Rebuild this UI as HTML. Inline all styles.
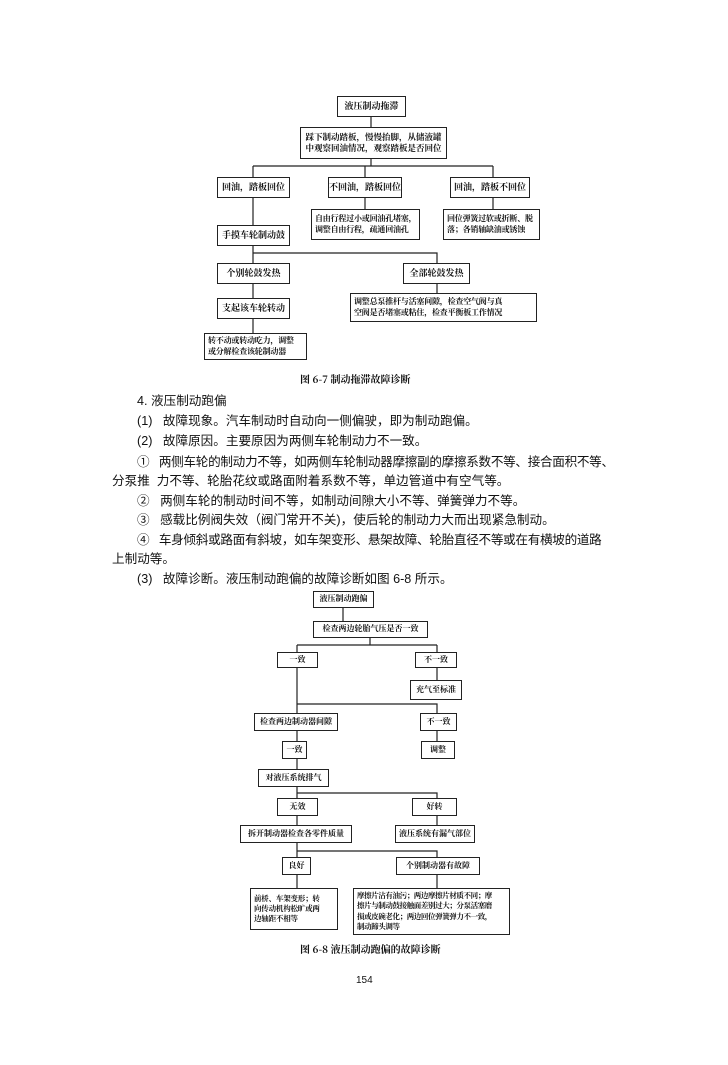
<!DOCTYPE html>
<html><head><meta charset="utf-8"><style>
html,body{margin:0;padding:0;background:#fff;}
#p{position:relative;width:728px;height:1065px;overflow:hidden;font-family:"Liberation Sans","Noto Sans CJK SC",sans-serif;color:#111;}
.b{position:absolute;border:1.5px solid #222;box-sizing:border-box;display:flex;align-items:center;justify-content:center;text-align:center;font-size:9px;font-weight:bold;line-height:1.35;background:#fff;font-family:"Noto Serif CJK SC","Noto Sans CJK SC",serif;white-space:nowrap;overflow:hidden;}
.l{text-align:left;padding:0 3px;justify-content:flex-start;font-size:8px;letter-spacing:-0.2px;}
.t{position:absolute;font-size:12.6px;white-space:nowrap;font-family:"Liberation Sans","Noto Sans CJK SC",sans-serif;}
.c{position:absolute;font-size:10px;font-weight:bold;white-space:nowrap;font-family:"Noto Serif CJK SC","Noto Sans CJK SC",serif;}
svg{position:absolute;left:0;top:0;}
</style></head><body><div id="p">
<svg width="728" height="1065" stroke="#222" stroke-width="1.2" fill="none">
<path d="M371 117V127 M371 159V166 M253 166H493 M253 166V177 M365 166V177 M493 166V177 M365 198V209 M493 198V209 M253 198V225 M253 246V263 M253 253H437V263 M253 284V298 M437 284V293 M253 319V333"/>
<path d="M343 608V621 M370 638V645 M297 645H437 M297 645V652 M437 645V652 M437 668V680 M297 668V713 M297 704H437V713 M437 731V741 M297 731V741 M297 759V769 M297 787V798 M297 793H437V798 M297 816V825 M437 816V825 M297 843V857 M297 851H437V857 M297 875V888 M437 875V888"/>
</svg>
<div class="b" style="left:337px;top:96px;width:69px;height:21px">液压制动拖滞</div>
<div class="b" style="left:300px;top:127px;width:147px;height:32px;font-size:8.5px">踩下制动踏板，慢慢抬脚，从储液罐<br>中观察回油情况，观察踏板是否回位</div>
<div class="b" style="left:217px;top:177px;width:73px;height:21px">回油，踏板回位</div>
<div class="b" style="left:328px;top:177px;width:74px;height:21px">不回油，踏板回位</div>
<div class="b" style="left:450px;top:177px;width:80px;height:21px">回油，踏板不回位</div>
<div class="b l" style="left:311px;top:209px;width:109px;height:31px">自由行程过小或回油孔堵塞，<br>调整自由行程，疏通回油孔</div>
<div class="b l" style="left:443px;top:209px;width:97px;height:31px">回位弹簧过软或折断、脱<br>落；各销轴缺油或锈蚀</div>
<div class="b" style="left:217px;top:225px;width:73px;height:21px">手摸车轮制动鼓</div>
<div class="b" style="left:217px;top:263px;width:73px;height:21px">个别轮鼓发热</div>
<div class="b" style="left:403px;top:263px;width:67px;height:21px">全部轮鼓发热</div>
<div class="b" style="left:217px;top:298px;width:73px;height:21px">支起该车轮转动</div>
<div class="b l" style="left:350px;top:293px;width:187px;height:29px">调整总泵推杆与活塞间隙，检查空气阀与真<br>空阀是否堵塞或粘住，检查平衡板工作情况</div>
<div class="b l" style="left:204px;top:333px;width:103px;height:27px">转不动或转动吃力，调整<br>或分解检查该轮制动器</div>
<div class="c" style="left:300px;top:371px">图 6-7 制动拖滞故障诊断</div>

<div class="t" style="left:137px;top:390px">4. 液压制动跑偏</div>
<div class="t" style="left:137px;top:410px">(1)&nbsp;&nbsp; 故障现象。汽车制动时自动向一侧偏驶，即为制动跑偏。</div>
<div class="t" style="left:137px;top:430px">(2)&nbsp;&nbsp; 故障原因。主要原因为两侧车轮制动力不一致。</div>
<div class="t" style="left:137px;top:451px;letter-spacing:-0.3px">①&nbsp;&nbsp; 两侧车轮的制动力不等，如两侧车轮制动器摩擦副的摩擦系数不等、接合面积不等、</div>
<div class="t" style="left:112px;top:470px">分泵推&nbsp; 力不等、轮胎花纹或路面附着系数不等，单边管道中有空气等。</div>
<div class="t" style="left:137px;top:490px">②&nbsp;&nbsp; 两侧车轮的制动时间不等，如制动间隙大小不等、弹簧弹力不等。</div>
<div class="t" style="left:137px;top:509px">③&nbsp;&nbsp; 感载比例阀失效（阀门常开不关)，使后轮的制动力大而出现紧急制动。</div>
<div class="t" style="left:137px;top:529px;letter-spacing:-0.3px">④&nbsp;&nbsp; 车身倾斜或路面有斜坡，如车架变形、悬架故障、轮胎直径不等或在有横坡的道路</div>
<div class="t" style="left:112px;top:548px">上制动等。</div>
<div class="t" style="left:137px;top:568px">(3)&nbsp;&nbsp; 故障诊断。液压制动跑偏的故障诊断如图 6-8 所示。</div>

<div class="b" style="left:313px;top:591px;width:61px;height:17px;font-size:8px">液压制动跑偏</div>
<div class="b" style="left:313px;top:621px;width:115px;height:17px;font-size:8px">检查两边轮胎气压是否一致</div>
<div class="b" style="left:277px;top:652px;width:41px;height:16px;font-size:8px">一致</div>
<div class="b" style="left:415px;top:652px;width:42px;height:16px;font-size:8px">不一致</div>
<div class="b" style="left:410px;top:680px;width:52px;height:20px;font-size:8px">充气至标准</div>
<div class="b" style="left:254px;top:713px;width:84px;height:18px;font-size:8px">检查两边制动器间隙</div>
<div class="b" style="left:420px;top:713px;width:37px;height:18px;font-size:8px">不一致</div>
<div class="b" style="left:282px;top:741px;width:25px;height:18px;font-size:8px">一致</div>
<div class="b" style="left:421px;top:741px;width:34px;height:18px;font-size:8px">调整</div>
<div class="b" style="left:258px;top:769px;width:71px;height:18px;font-size:8px">对液压系统排气</div>
<div class="b" style="left:277px;top:798px;width:41px;height:18px;font-size:8px">无效</div>
<div class="b" style="left:412px;top:798px;width:45px;height:18px;font-size:8px">好转</div>
<div class="b" style="left:240px;top:825px;width:112px;height:18px;font-size:8px">拆开制动器检查各零件质量</div>
<div class="b" style="left:395px;top:825px;width:80px;height:18px;font-size:8px">液压系统有漏气部位</div>
<div class="b" style="left:282px;top:857px;width:29px;height:18px;font-size:8px">良好</div>
<div class="b" style="left:396px;top:857px;width:84px;height:18px;font-size:8px">个别制动器有故障</div>
<div class="b l" style="left:250px;top:888px;width:88px;height:42px;font-size:7.5px">前桥、车架变形；转<br>向传动机构松旷或两<br>边轴距不相等</div>
<div class="b l" style="left:353px;top:888px;width:157px;height:47px;font-size:7.5px;letter-spacing:-0.4px">摩擦片沾有油污；两边摩擦片材质不同；摩<br>擦片与制动鼓接触面差别过大；分泵活塞磨<br>损或皮碗老化；两边回位弹簧弹力不一致，<br>制动蹄头调等</div>
<div class="c" style="left:300px;top:941px">图 6-8 液压制动跑偏的故障诊断</div>
<div class="t" style="left:356px;top:975px;font-size:10px">154</div>
</div></body></html>
